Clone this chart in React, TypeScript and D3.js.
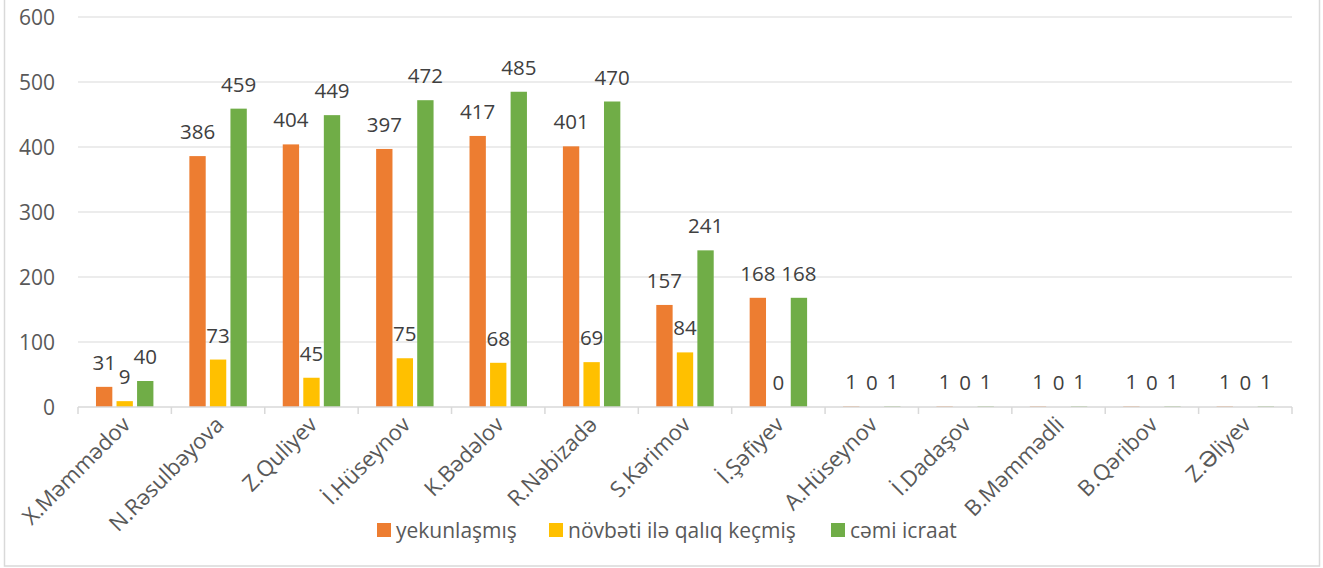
import React from "react";
import * as d3 from "d3";

const categories = [
  "X.Məmmədov", "N.Rəsulbəyova", "Z.Quliyev", "İ.Hüseynov", "K.Bədəlov",
  "R.Nəbizadə", "S.Kərimov", "İ.Şəfiyev", "A.Hüseynov", "İ.Dadaşov",
  "B.Məmmədli", "B.Qəribov", "Z.Əliyev",
];
const yekunlasmis = [31, 386, 404, 397, 417, 401, 157, 168, 1, 1, 1, 1, 1];
const novbeti = [9, 73, 45, 75, 68, 69, 84, 0, 0, 0, 0, 0, 0];
const cemi = [40, 459, 449, 472, 485, 470, 241, 168, 1, 1, 1, 1, 1];
const seriesNames = ["yekunlaşmış", "növbəti ilə qalıq keçmiş", "cəmi icraat"];
const seriesColors = ["#ED7D31", "#FFC000", "#70AD47"];
const yTicks = [0, 100, 200, 300, 400, 500, 600];

const W = 1323, H = 568;
const left = 78, right = 1292, top = 17, bottom = 407;
const FONT = "'Open Sans', 'DejaVu Sans', sans-serif";

export default function App() {
  const series = [yekunlasmis, novbeti, cemi];
  const x = d3.scaleBand<string>().domain(categories).range([left, right]).paddingInner(0).paddingOuter(0);
  const y = d3.scaleLinear().domain([0, 600]).range([bottom, top]);
  const bw = x.bandwidth();
  const barW = bw * 0.175;
  const step = bw * 0.22;
  const sub = (i: number) => (i - 1) * step;

  return (
    <div style={{ position: "fixed", left: 0, top: 0 }}>
      <svg width={W} height={H} style={{ display: "block", background: "#fff" }}>
        <rect x={4.5} y={-10} width={1315} height={576} fill="#fff" stroke="#D9D9D9" strokeWidth={1.5} />
        {yTicks.map((t) => (
          <g key={t}>
            {t > 0 && <line x1={left} x2={right} y1={y(t)} y2={y(t)} stroke="#D9D9D9" strokeWidth={1} />}
            <text x={55} y={y(t)} textAnchor="end" dominantBaseline="central" fontSize={21} fill="#595959" fontFamily={FONT}>{t}</text>
          </g>
        ))}
        {categories.map((c, ci) => {
          const cx = (x(c) as number) + bw / 2;
          return (
            <g key={c}>
              {series.map((s, si) => {
                const v = s[ci];
                const bx = cx + sub(si) - barW / 2;
                return (
                  <g key={si}>
                    <rect x={bx} y={y(v)} width={barW} height={bottom - y(v)} fill={seriesColors[si]} />
                    <text x={cx + sub(si)} y={y(v) - 25} textAnchor="middle" dominantBaseline="central" fontSize={20.5} fill="#404040" fontFamily={FONT}>{v}</text>
                  </g>
                );
              })}
            </g>
          );
        })}
        <line x1={left} x2={right} y1={bottom} y2={bottom} stroke="#D9D9D9" strokeWidth={1.5} />
        {[...categories.map((c) => x(c) as number), right].map((tx, i) => (
          <line key={i} x1={tx} x2={tx} y1={bottom} y2={bottom + 7} stroke="#D9D9D9" strokeWidth={1.5} />
        ))}
        {categories.map((c) => {
          const cx = (x(c) as number) + bw / 2;
          return (
            <text key={c} transform={`translate(${cx + 7},${426}) rotate(-45)`} textAnchor="end" fontSize={22} fill="#595959" fontFamily={FONT}>{c}</text>
          );
        })}
        {(() => {
          const xs = [377, 549, 831];
          return seriesNames.map((n, i) => (
            <g key={n}>
              <rect x={xs[i]} y={523} width={14} height={14} fill={seriesColors[i]} />
              <text x={xs[i] + 19} y={530} dominantBaseline="central" fontSize={21} fill="#595959" fontFamily={FONT}>{n}</text>
            </g>
          ));
        })()}
      </svg>
    </div>
  );
}
